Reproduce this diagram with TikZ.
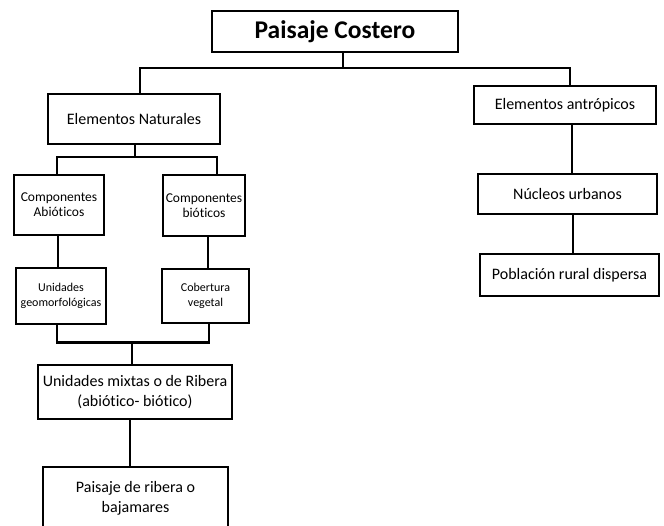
\documentclass[tikz,border=0pt]{standalone}
\usepackage{fontspec}
\setmainfont[Ligatures=NoCommon]{Carlito}
\usetikzlibrary{positioning}

\tikzset{
  caja/.style={draw, line width=2.6pt, align=center, inner sep=0pt},
  linea/.style={line width=2.4pt},
  grande/.style={font=\fontsize{25.5}{28}\selectfont\bfseries},
  media/.style={font=\fontsize{16}{20}\selectfont},
  chica/.style={font=\fontsize{13.5}{15}\selectfont},
  mini/.style={font=\fontsize{12}{15}\selectfont}
}

\begin{document}
\begin{tikzpicture}[x=1pt, y=-1pt]
        \clip (0,0) rectangle (664,526);
        \fill[white] (0,0) rectangle (664,526);
        % cajas
        \node[caja, grande, minimum width=246, minimum height=41] (titulo) at (335,31.5) {Paisaje Costero};
        \node[caja, media, minimum width=172, minimum height=50] (naturales) at (134,119) {Elementos Naturales};
        \node[caja, media, minimum width=182, minimum height=38] (antropicos) at (565,105) {Elementos antrópicos};
        \node[caja, media, minimum width=179, minimum height=40] (nucleos) at (567.5,194) {Núcleos urbanos};
        \node[caja, media, minimum width=179, minimum height=42] (poblacion) at (569.5,275) {Población rural dispersa};
        \node[caja, chica, minimum width=90, minimum height=60] (abioticos) at (59,205) {Componentes\\Abióticos};
        \node[caja, chica, minimum width=82, minimum height=61] (bioticos) at (204,205.5) {Componentes\\bióticos};
        \node[caja, mini, minimum width=90, minimum height=56] (geomorf) at (61,296) {Unidades\\geomorfológicas};
        \node[caja, mini, minimum width=87, minimum height=54] (cobertura) at (205.5,296) {Cobertura\\vegetal};
        \node[caja, media, minimum width=194, minimum height=54] (mixtas) at (135,392) {Unidades mixtas o de Ribera\\(abiótico- biótico)};
        \node[caja, media, minimum width=185, minimum height=62] (ribera) at (135.5,498) {Paisaje de ribera o\\bajamares};

        % conectores
        \draw[linea] ([xshift=8]titulo.south) -- ++(0,15) coordinate (b1);
        \draw[linea] ([xshift=6]naturales.north) |- (b1) -| ([xshift=5]antropicos.north);
        \draw[linea] ([xshift=1]naturales.south) -- ++(0,12) coordinate (b2);
        \draw[linea] ([xshift=-2]abioticos.north) |- (b2) -| ([xshift=13]bioticos.north);
        \draw[linea] ([xshift=-1]abioticos.south) -- ([xshift=-1]abioticos.south |- geomorf.north);
        \draw[linea] ([xshift=4]bioticos.south) -- ([xshift=4]bioticos.south |- cobertura.north);
        \draw[linea] ([xshift=-3]mixtas.north) -- ++(0,-21) coordinate (b3);
        \draw[linea] ([xshift=-4]geomorf.south) |- (b3) -| ([xshift=3.5]cobertura.south);
        \draw[linea] ([xshift=-5]mixtas.south) -- ([xshift=-5]mixtas.south |- ribera.north);
        \draw[linea] ([xshift=7]antropicos.south) -- ([xshift=7]antropicos.south |- nucleos.north);
        \draw[linea] ([xshift=5.5]nucleos.south) -- ([xshift=5.5]nucleos.south |- poblacion.north);
    \end{tikzpicture}
\end{document}
